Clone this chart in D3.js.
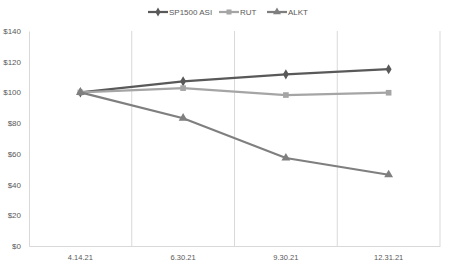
<!DOCTYPE html>
<html>
<head>
<meta charset="utf-8">
<script src="https://cdn.jsdelivr.net/npm/d3@7"></script>
<style>
  body { margin: 0; background: #fff; overflow: hidden; }
  svg { display: block; }
  text { font-family: "Liberation Sans", Arial, sans-serif; fill: #595959; }
</style>
</head>
<body>
<div id="chart"></div>
<script>
// Chart data
const dates = ["4.14.21", "6.30.21", "9.30.21", "12.31.21"];
const sp1500 = [100, 107.2, 111.8, 115.1];
const rut = [100, 102.8, 98.3, 99.8];
const alkt = [100, 83.2, 57.3, 46.4];
const yTicks = [0, 20, 40, 60, 80, 100, 120, 140];

const w = 451;
const h = 270;
const margins = { top: 31, left: 29, right: 11, bottom: 24 };
const innerWidth = w - margins.left - margins.right;
const innerHeight = h - margins.top - margins.bottom;

const series = [
  { name: "SP1500 ASI", values: sp1500, color: "#595959", shape: d3.symbolDiamond, size: 30 },
  { name: "RUT", values: rut, color: "#a5a5a5", shape: d3.symbolSquare, size: 32 },
  { name: "ALKT", values: alkt, color: "#7f7f7f", shape: d3.symbolTriangle, size: 34 }
];

const svg = d3.select("#chart")
  .append("svg")
    .attr("width", w)
    .attr("height", h);

const mainG = svg.append("g")
  .attr("transform", `translate(${margins.left}, ${margins.top})`);

const xScale = d3.scaleBand()
  .domain(dates)
  .range([0, innerWidth]);

const yScale = d3.scaleLinear()
  .domain([0, 140])
  .range([innerHeight, 0]);

// Vertical gridlines between categories + right edge
const gridX = dates.slice(1).map(d => xScale(d)).concat([innerWidth]);
mainG.append("g")
  .selectAll("line")
  .data(gridX)
  .enter()
  .append("line")
    .attr("x1", d => d)
    .attr("x2", d => d)
    .attr("y1", 0)
    .attr("y2", innerHeight)
    .attr("stroke", "#d9d9d9")
    .attr("stroke-width", 1);

// Y axis
const yAxis = mainG.append("g")
  .call(d3.axisLeft(yScale).tickValues(yTicks).tickFormat(d => "$" + d).tickSize(0).tickPadding(8));
yAxis.select(".domain").attr("stroke", "#d9d9d9");
yAxis.selectAll("text").attr("font-size", 8).style("fill", "#595959");

// X axis
const xAxis = mainG.append("g")
  .attr("transform", `translate(0, ${innerHeight})`)
  .call(d3.axisBottom(xScale).tickSize(0).tickPadding(9));
xAxis.select(".domain").attr("stroke", "#d9d9d9");
xAxis.selectAll("text").attr("font-size", 7.5).style("fill", "#595959");

const line = d3.line()
  .x((d, i) => xScale(dates[i]) + xScale.bandwidth() / 2)
  .y(d => yScale(d));

series.forEach(s => {
  mainG.append("path")
    .datum(s.values)
    .attr("fill", "none")
    .attr("stroke", s.color)
    .attr("stroke-width", 2.25)
    .attr("d", line);

  mainG.selectAll(null)
    .data(s.values)
    .enter()
    .append("path")
      .attr("d", d3.symbol().type(s.shape).size(s.size))
      .attr("transform", (d, i) => `translate(${xScale(dates[i]) + xScale.bandwidth() / 2}, ${yScale(d)})`)
      .attr("fill", s.color);
});

// Legend
const legendX = [148, 219, 267];
const legend = svg.append("g");
series.forEach((s, i) => {
  const g = legend.append("g").attr("transform", `translate(${legendX[i]}, 12)`);
  g.append("line")
    .attr("x1", 0).attr("x2", 20)
    .attr("y1", 0).attr("y2", 0)
    .attr("stroke", s.color)
    .attr("stroke-width", 2.25);
  g.append("path")
    .attr("d", d3.symbol().type(s.shape).size(s.size * 0.8))
    .attr("transform", "translate(10,0)")
    .attr("fill", s.color);
  g.append("text")
    .attr("x", 21)
    .attr("y", 3)
    .attr("font-size", 8)
    .style("fill", "#595959")
    .text(s.name);
});
</script>
</body>
</html>
